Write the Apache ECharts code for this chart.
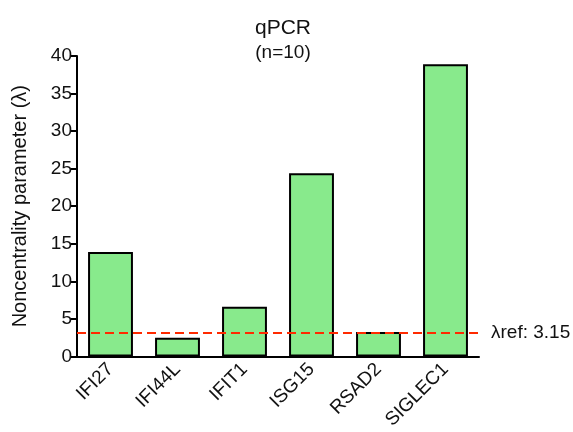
<!DOCTYPE html>
<html>
<head>
<meta charset="utf-8">
<script src="https://cdn.jsdelivr.net/npm/echarts@6/dist/echarts.min.js"></script>
<style>
  html, body { margin: 0; padding: 0; background: #fff; }
  #chart { width: 573px; height: 432px; }
</style>
</head>
<body>
<div id="chart"></div>
<script>
// 基因类别与非中心参数
const genes = ['IFI27', 'IFI44L', 'IFIT1', 'ISG15', 'RSAD2', 'SIGLEC1'];
const lambdaValues = [13.9, 2.5, 6.6, 24.4, 3.25, 38.9];
const lambdaRef = 3.15;
const yTicks = [0, 5, 10, 15, 20, 25, 30, 35, 40];

const font = 'Liberation Sans, Arial, sans-serif';

let chart = echarts.init(document.getElementById('chart'));
chart.setOption({
  animation: false,
  title: {
    text: 'qPCR',
    subtext: '(n=10)',
    left: 278, top: 13, textAlign: 'center', itemGap: 4,
    textStyle: { fontFamily: font, fontSize: 21, fontWeight: 'normal', color: '#111' },
    subtextStyle: { fontFamily: font, fontSize: 19, color: '#111' }
  },
  grid: { left: 77, right: 94, top: 56, bottom: 74 },
  xAxis: {
    type: 'category',
    data: genes,
    axisLine: { lineStyle: { color: '#000', width: 2 } },
    axisTick: { alignWithLabel: true, length: 6, lineStyle: { color: '#000', width: 2 } },
    axisLabel: { rotate: 45, fontFamily: font, fontSize: 19, color: '#111', margin: 10 }
  },
  yAxis: {
    type: 'value',
    min: yTicks[0], max: yTicks[yTicks.length - 1], interval: 5,
    name: 'Noncentrality parameter (λ)',
    nameLocation: 'middle', nameGap: 47,
    nameTextStyle: { fontFamily: font, fontSize: 20, color: '#111' },
    axisLine: { show: true, lineStyle: { color: '#000', width: 2 } },
    axisTick: { show: true, length: 6, lineStyle: { color: '#000', width: 2 } },
    axisLabel: { fontFamily: font, fontSize: 19, color: '#111', margin: 5 },
    splitLine: { show: false }
  },
  series: [{
    type: 'bar',
    data: lambdaValues,
    barWidth: '67%',
    itemStyle: { color: '#88ea8c', borderColor: '#000', borderWidth: 2 },
    markLine: {
      silent: true,
      symbol: 'none',
      data: [{ yAxis: lambdaRef }],
      lineStyle: { color: '#ff2a00', type: [9, 5], width: 2 },
      label: {
        position: 'end', distance: 12,
        formatter: 'λref: ' + lambdaRef,
        fontFamily: font, fontSize: 19, color: '#111'
      }
    }
  }]
});
</script>
</body>
</html>
